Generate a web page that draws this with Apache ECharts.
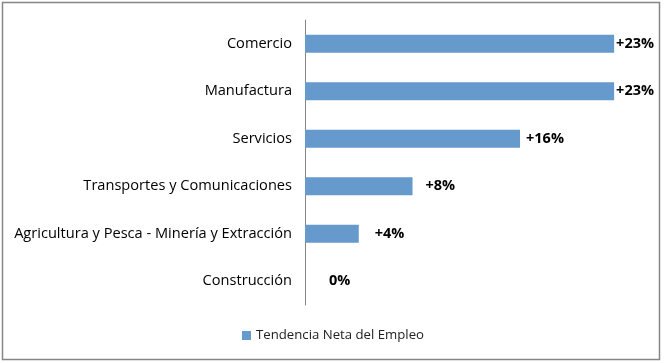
<!DOCTYPE html>
<html>
<head>
<meta charset="utf-8">
<script src="https://cdn.jsdelivr.net/npm/echarts@6/dist/echarts.min.js"></script>
<style>
html,body{margin:0;padding:0;background:#fff;}
#c{width:666px;height:363px;}
</style>
</head>
<body>
<div id="c"></div>
<script>
const categories = ['Comercio','Manufactura','Servicios','Transportes y Comunicaciones','Agricultura y Pesca - Minería y Extracción','Construcción'];
const values = [23, 23, 16, 8, 4, 0];
const seriesName = 'Tendencia Neta del Empleo';
// label gap from bar end (styling only)
const labelGaps = [2, 2, 6, 13, 16, 24];

const chart = echarts.init(document.getElementById('c'), null, {renderer:'canvas'});
const font = 'Open Sans';
chart.setOption({
  animation:false,
  graphic:[{type:'rect', shape:{x:2.5,y:2.5,width:657,height:357}, style:{fill:'none', stroke:'#868686', lineWidth:1.5}, silent:true}],
  grid:{left:305, top:20, height:285, width:336, containLabel:false},
  xAxis:{type:'value', min:0, max:25, show:false},
  yAxis:{type:'category', data:categories, inverse:true,
    axisLine:{lineStyle:{color:'#868686'}},
    axisTick:{length:6, lineStyle:{color:'#868686'}},
    axisLabel:{color:'#000', fontFamily:font, fontSize:14.6, margin:13}},
  legend:{data:[seriesName], bottom:16, left:'center', itemWidth:9, itemHeight:9, itemGap:3,
    icon:'rect', textStyle:{fontFamily:font, fontSize:13.2, color:'#222'}},
  series:[{type:'bar', name:seriesName, barWidth:18,
    itemStyle:{color:'#6699CC'},
    data: values.map((v,i)=>({value:v, label:{distance:labelGaps[i]}})),
    label:{show:true, position:'right', fontFamily:font, fontWeight:'bold', fontSize:14.5, color:'#000',
      formatter:p=>(p.value>0?'+':'')+p.value+'%'}
  }]
});
</script>
</body>
</html>
